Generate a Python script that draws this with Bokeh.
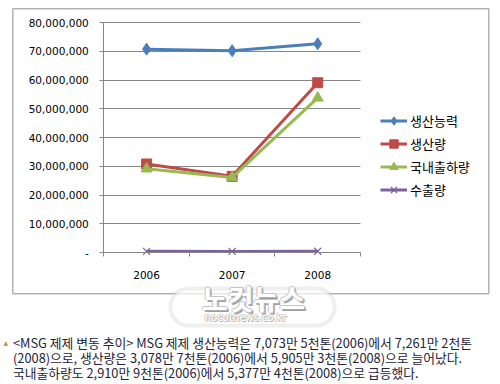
from bokeh.plotting import figure
from bokeh.models import FixedTicker, Legend, LegendItem, Label, BoxAnnotation, Range1d
from bokeh.embed import file_html
from bokeh.resources import INLINE

# ---- data ----
years = ["2006", "2007", "2008"]
series_names = ["생산능력", "생산량", "국내출하량", "수출량"]
capacity = [70735000, 70200000, 72612000]
production = [30787000, 26500000, 59053000]
domestic = [29109000, 26100000, 53774000]
export = [400000, 380000, 410000]
y_ticks = [0, 10000000, 20000000, 30000000, 40000000, 50000000, 60000000, 70000000, 80000000]
y_tick_labels = ["-", "10,000,000", "20,000,000", "30,000,000", "40,000,000",
                 "50,000,000", "60,000,000", "70,000,000", "80,000,000"]
caption_lines = [
    "<MSG 제제 변동 추이>  MSG 제제 생산능력은 7,073만 5천톤(2006)에서 7,261만 2천톤",
    "(2008)으로, 생산량은 3,078만 7천톤(2006)에서 5,905만 3천톤(2008)으로 늘어났다.",
    "국내출하량도 2,910만 9천톤(2006)에서 5,377만 4천톤(2008)으로 급등했다.",
]
watermark_title = "노컷뉴스"
watermark_url = "nocutnews.co.kr"

# ---- layout / style ----
W, H = 500, 384
PLOT_L, PLOT_R, PLOT_T, PLOT_B = 103.3, 360.0, 22.0, 252.0   # page pixels of the plot area
colors = ["#4A7EBB", "#BE4B48", "#98B954", "#7D60A0"]
markers = ["diamond", "square", "triangle", "x"]
sizes = [12, 10, 11, 10]
values = [capacity, production, domestic, export]
grid_col = "#868686"

n = len(years)
x_pos = [i + 0.5 for i in range(n)]
y_max = y_ticks[-1]

# ranges chosen so the data area lands on the plot area while the frame fills the canvas
px_per_x = (PLOT_R - PLOT_L) / n
px_per_y = (PLOT_B - PLOT_T) / y_max
x_range = Range1d(-PLOT_L / px_per_x, n + (W - PLOT_R) / px_per_x)
y_range = Range1d(-(H - PLOT_B) / px_per_y, y_max + PLOT_T / px_per_y)

p = figure(width=W, height=H, output_backend="svg", toolbar_location=None,
           x_range=x_range, y_range=y_range,
           min_border_left=0, min_border_right=0, min_border_top=0, min_border_bottom=0)
p.outline_line_color = None
p.background_fill_color = "white"
p.border_fill_color = "white"

# grid
p.xgrid.visible = False
g = p.ygrid[0]
g.ticker = FixedTicker(ticks=y_ticks)
g.grid_line_color = grid_col
g.grid_line_width = 1
if "cross_bounds" in g.properties():
    g.bounds = (0, y_max * 1.000001)
    g.cross_bounds = (0, n)
else:
    g.visible = False
    p.segment(x0=[0] * (len(y_ticks) - 1), x1=[n] * (len(y_ticks) - 1),
              y0=y_ticks[1:], y1=y_ticks[1:], line_color=grid_col, line_width=1)

# y axis
yax = p.yaxis[0]
yax.fixed_location = 0
yax.bounds = (0, y_max)
yax.ticker = FixedTicker(ticks=y_ticks, minor_ticks=[])
yax.major_label_overrides = {t: l for t, l in zip(y_ticks, y_tick_labels)}
yax.axis_line_color = grid_col
yax.major_tick_line_color = grid_col
yax.major_tick_in = 0
yax.major_tick_out = 4
yax.minor_tick_line_color = None
yax.major_label_text_font = "DejaVu Sans"
yax.major_label_text_font_size = "10.5px"
yax.major_label_text_color = "black"
yax.major_label_standoff = 11

# x axis
xax = p.xaxis[0]
xax.fixed_location = 0
xax.bounds = (0, n)
xax.ticker = FixedTicker(ticks=x_pos, minor_ticks=list(range(n + 1)))
xax.major_label_overrides = {x: y for x, y in zip(x_pos, years)}
xax.axis_line_color = grid_col
xax.major_tick_line_color = None
xax.major_tick_in = 0
xax.major_tick_out = 0
xax.minor_tick_line_color = grid_col
xax.minor_tick_in = 0
xax.minor_tick_out = 4
xax.major_label_text_font = "DejaVu Sans"
xax.major_label_text_font_size = "10.5px"
xax.major_label_text_color = "black"
xax.major_label_standoff = 14

# series
items = []
for name, vals, c, m, s in zip(series_names, values, colors, markers, sizes):
    l = p.line(x_pos, vals, line_color=c, line_width=3)
    if m == "x":
        sc = p.scatter(x_pos, vals, marker=m, size=s, line_color=c, line_width=1.2)
    else:
        sc = p.scatter(x_pos, vals, marker=m, size=s, fill_color=c, line_color=c)
    items.append(LegendItem(label=name, renderers=[l, sc]))

legend = Legend(items=items, location=(380, 184), padding=0, margin=0, spacing=2,
                glyph_width=27, glyph_height=21, label_height=21, label_standoff=3,
                border_line_color=None, background_fill_alpha=0,
                label_text_font="Noto Sans CJK KR", label_text_font_size="13px",
                label_text_color="black")
p.add_layout(legend)

def sy(page_y):
    return H - page_y

# outer chart border
p.add_layout(BoxAnnotation(left=12.3, right=488.3, top=sy(8.3), bottom=sy(293.3),
                           left_units="screen", right_units="screen",
                           top_units="screen", bottom_units="screen",
                           fill_alpha=0, line_color="black", line_width=1.5))

# watermark
p.add_layout(BoxAnnotation(left=170, right=334, top=sy(288), bottom=sy(325),
                           left_units="screen", right_units="screen",
                           top_units="screen", bottom_units="screen",
                           border_radius=18, fill_color="white", fill_alpha=0.7,
                           line_color="#cbcbcb", line_width=4))
for dx, dy, col in [(2, -2, "#9c9c9c"), (1.5, -1, "#b0b0b0"), (-1, 0, "#c4c4c4"),
                    (0, 1, "#c4c4c4"), (1, 0, "#b8b8b8"), (0, 0, "white")]:
    p.add_layout(Label(x=253 + dx, y=sy(297) + dy, x_units="screen", y_units="screen",
                       text=watermark_title, text_align="center", text_baseline="middle",
                       text_font="Noto Sans CJK KR", text_font_style="bold",
                       text_font_size="28px", text_color=col))
for dx, dy, col in [(1, -1, "#a8a8a8"), (-1, 0, "#c8c8c8"), (0, 1, "#c8c8c8"), (0, 0, "white")]:
    p.add_layout(Label(x=245 + dx, y=sy(317) + dy, x_units="screen", y_units="screen",
                       text=watermark_url, text_align="center", text_baseline="middle",
                       text_font="DejaVu Sans", text_font_size="10px", text_color=col))

# caption
p.add_layout(Label(x=3, y=sy(342), x_units="screen", y_units="screen", text="▲",
                   text_align="left", text_baseline="middle", text_font="DejaVu Sans",
                   text_font_size="6px", text_color="#d08a45"))
for i, line in enumerate(caption_lines):
    p.add_layout(Label(x=12.5, y=sy(341.7 + 15.0 * i), x_units="screen", y_units="screen",
                       text=line, text_align="left", text_baseline="middle",
                       text_font="Noto Sans CJK KR", text_font_size="12.8px",
                       text_color="#23233a"))

open("out.html", "w").write(file_html(p, INLINE))
